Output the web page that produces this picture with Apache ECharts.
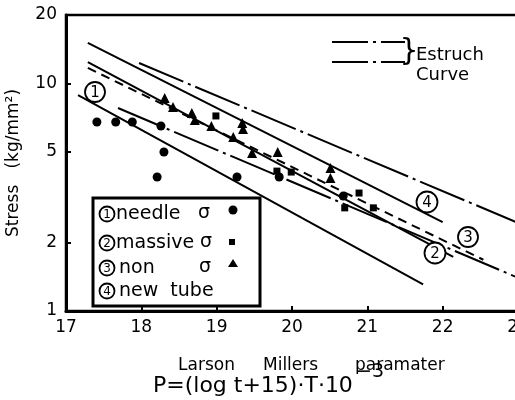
<!DOCTYPE html>
<html><head><meta charset="utf-8">
<script src="https://cdn.jsdelivr.net/npm/echarts@6/dist/echarts.min.js"></script>
<style>html,body{margin:0;padding:0;background:#fff;}#c{width:515px;height:400px;}</style>
</head><body><div id="c"></div>
<script>
// ---- data ----
const xTicks = [17, 18, 19, 20, 21, 22, 23];
const yTicks = [1, 2, 5, 10, 20];
const needlePts = [[17.41,6.77],[17.66,6.77],[17.88,6.77],[18.26,6.5],[18.30,5.0],[18.21,3.88],[19.27,3.88],[19.83,3.88],[20.68,3.2]];
const massivePts = [[18.99,7.2],[19.80,4.12],[19.99,4.08],[20.89,3.3],[20.70,2.84],[21.08,2.84]];
const nonPts = [[18.31,8.64],[18.42,7.88],[18.67,7.42],[18.71,6.91],[18.93,6.5],[19.34,6.7],[19.35,6.31],[19.22,5.82],[19.47,4.95],[19.81,5.0],[20.51,4.25],[20.51,3.84]];
const newTubeLine = [[17.29,15.1],[22.0,2.46]];
const massiveLine = [[17.29,12.4],[22.14,1.73]];
const nonLine = [[17.29,11.7],[22.54,1.68]];
const needleLine = [[17.16,8.9],[21.74,1.31]];
const estruchUpper = [[17.97,12.3],[23.0,2.44]];
const estruchLower = [[17.69,7.8],[23.0,1.40]];
const legendRows = ['needle', 'massive', 'non', 'new  tube'];

const FONT = '"DejaVu Sans", "Noto Sans", sans-serif';
const chart = echarts.init(document.getElementById('c'), null, {renderer: 'canvas'});

function lineSeries(data, type) {
  return {type: 'line', data: data, symbol: 'none', silent: true, z: 3,
    lineStyle: {color: '#000', width: 2, type: type}};
}
function scatter(data, symbol, size) {
  return {type: 'scatter', data: data, symbol: symbol, symbolSize: size, z: 4,
    itemStyle: {color: '#000', opacity: 1}};
}
function circNum(cx, cy, r, d, fs) {
  return [
    {type: 'circle', z: 110, shape: {cx: cx, cy: cy, r: r}, style: {fill: '#fff', stroke: '#000', lineWidth: 1.8}},
    {type: 'text', z: 111, x: cx, y: cy + 1, style: {text: d, fill: '#000', font: fs + 'px ' + FONT, textAlign: 'center', textVerticalAlign: 'middle'}}
  ];
}
const DASHDOT = [48, 5, 3, 5];

let graphics = [];
// on-plot labels
graphics = graphics.concat(circNum(95, 92, 10, '1', 15));
graphics = graphics.concat(circNum(427, 202, 10.5, '4', 15));
graphics = graphics.concat(circNum(468, 237, 10, '3', 15));
graphics = graphics.concat(circNum(435, 253, 10.5, '2', 15));
// Estruch key
graphics.push({type: 'line', z: 110, shape: {x1: 332, y1: 42, x2: 405, y2: 42}, style: {stroke: '#000', lineWidth: 2, lineDash: [36, 5, 3, 5]}});
graphics.push({type: 'line', z: 110, shape: {x1: 332, y1: 62, x2: 405, y2: 62}, style: {stroke: '#000', lineWidth: 2, lineDash: [36, 5, 3, 5]}});
graphics.push({type: 'text', z: 110, x: 409, y: 52, style: {text: '}', fill: '#000', font: '30px ' + FONT, textAlign: 'center', textVerticalAlign: 'middle'}});
graphics.push({type: 'text', z: 110, x: 416, y: 55, style: {text: 'Estruch', fill: '#000', font: '18px ' + FONT, textAlign: 'left', textVerticalAlign: 'middle'}});
graphics.push({type: 'text', z: 110, x: 416, y: 75, style: {text: 'Curve', fill: '#000', font: '18px ' + FONT, textAlign: 'left', textVerticalAlign: 'middle'}});
// legend box
graphics.push({type: 'rect', z: 100, shape: {x: 93, y: 198, width: 167, height: 108}, style: {fill: '#fff', stroke: '#000', lineWidth: 3}});
const rowY = [214, 243, 268, 291];
const rowTextX = [116, 116, 119, 119];
for (let i = 0; i < 4; i++) {
  graphics = graphics.concat(circNum(107, rowY[i], 7.5, String(i + 1), 12));
  graphics.push({type: 'text', z: 111, x: rowTextX[i], y: rowY[i], style: {text: legendRows[i], fill: '#000', font: '19px ' + FONT, textAlign: 'left', textVerticalAlign: 'middle'}});
}
const sigX = [204, 206, 205];
for (let i = 0; i < 3; i++) {
  graphics.push({type: 'text', z: 111, x: sigX[i], y: rowY[i] - 1, style: {text: 'σ', fill: '#000', font: '19px ' + FONT, textAlign: 'center', textVerticalAlign: 'middle'}});
}
graphics.push({type: 'circle', z: 111, shape: {cx: 233, cy: 210, r: 4.5}, style: {fill: '#000'}});
graphics.push({type: 'rect', z: 111, shape: {x: 229, y: 239, width: 6, height: 6}, style: {fill: '#000'}});
graphics.push({type: 'polygon', z: 111, shape: {points: [[233, 259], [228, 267], [238, 267]]}, style: {fill: '#000'}});
// x axis titles
graphics.push({type: 'text', z: 110, x: 178, y: 366, style: {text: 'Larson', fill: '#000', font: '17px ' + FONT, textAlign: 'left', textVerticalAlign: 'middle'}});
graphics.push({type: 'text', z: 110, x: 263, y: 366, style: {text: 'Millers', fill: '#000', font: '17px ' + FONT, textAlign: 'left', textVerticalAlign: 'middle'}});
graphics.push({type: 'text', z: 110, x: 355, y: 366, style: {text: 'paramater', fill: '#000', font: '17px ' + FONT, textAlign: 'left', textVerticalAlign: 'middle'}});
graphics.push({type: 'text', z: 110, x: 153, y: 386, style: {text: 'P=(log t+15)·T·10', fill: '#000', font: '22px ' + FONT, textAlign: 'left', textVerticalAlign: 'middle'}});
graphics.push({type: 'text', z: 112, x: 356, y: 372, style: {text: '−3', fill: '#000', font: '19px ' + FONT, textAlign: 'left', textVerticalAlign: 'middle'}});

chart.setOption({
  animation: false,
  backgroundColor: '#fff',
  grid: {left: 66, top: 15, width: 452, height: 296, outerBoundsMode: 'none', containLabel: false,
    show: true, borderColor: '#000', borderWidth: 2.5, backgroundColor: 'transparent'},
  xAxis: {
    type: 'value', min: 17, max: 23, interval: 1,
    axisLine: {show: true, lineStyle: {color: '#000', width: 3}},
    axisTick: {show: true, inside: true, length: 5, lineStyle: {color: '#000', width: 2}},
    axisLabel: {color: '#000', fontSize: 17, fontFamily: FONT, margin: 8, showMaxLabel: true, hideOverlap: false,
      formatter: function (v) { return xTicks.indexOf(v) >= 0 ? String(v) : ''; }},
    splitLine: {show: false}
  },
  yAxis: {
    type: 'log', logBase: 10, min: 1, max: 20,
    name: 'Stress   (kg/mm²)', nameLocation: 'middle', nameGap: 44,
    nameTextStyle: {color: '#000', fontSize: 17, fontFamily: FONT},
    axisLine: {show: true, lineStyle: {color: '#000', width: 3}},
    axisTick: {show: true, inside: true, length: 5, customValues: yTicks, lineStyle: {color: '#000', width: 2}},
    axisLabel: {color: '#000', fontSize: 17, fontFamily: FONT, margin: 9, customValues: yTicks},
    minorTick: {show: false},
    splitLine: {show: false}
  },
  series: [
    lineSeries(newTubeLine, 'solid'),
    lineSeries(massiveLine, 'solid'),
    lineSeries(nonLine, [9, 6]),
    lineSeries(needleLine, 'solid'),
    lineSeries(estruchUpper, DASHDOT),
    lineSeries(estruchLower, DASHDOT),
    scatter(needlePts, 'circle', 9),
    scatter(massivePts, 'rect', 7),
    scatter(nonPts, 'triangle', 10)
  ],
  graphic: graphics
});
</script>
</body></html>
